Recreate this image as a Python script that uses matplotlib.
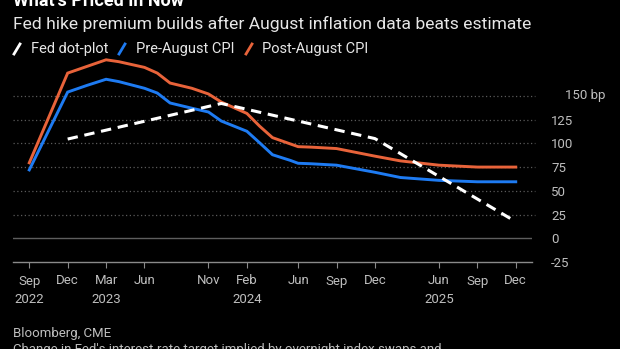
"""What's Priced In Now -- Fed hike premium after August CPI."""
import matplotlib
matplotlib.use("Agg")
import matplotlib.pyplot as plt
from matplotlib.lines import Line2D

# x = months from Sep 2022 as placed on the chart's axis
PRE_X = [0, 3, 4.5, 6, 7, 9, 10, 11, 12.7, 14, 15, 17, 18, 19, 20.4, 21, 22, 24, 27, 29, 32, 35, 38]
PRE_Y = [72, 154, 161, 167.5, 165, 158, 153, 142.5, 137, 133, 123.5, 112.7, 100.5, 88, 82, 79, 78.5, 77, 69.5, 64, 61, 59.5, 59.5]

POST_X = [0, 3, 6, 7, 9, 10, 11, 12.7, 14, 15, 17, 18, 19, 21, 22, 24, 27, 29, 32, 35, 38]
POST_Y = [79.5, 174, 188, 186, 180, 174, 163.5, 158, 152, 143.5, 131.5, 118, 106, 96.5, 96, 94.5, 86.5, 81.5, 77, 75, 75]

DOT_X = [3, 15, 27, 38]
DOT_Y = [104.5, 142, 105, 17.5]

TICK_X = [0, 3, 6, 9, 14, 17, 21, 24, 27, 32, 35, 38]
TICK_LABELS = ["Sep\n2022", "Dec", "Mar\n2023", "Jun", "Nov", "Feb\n2024",
               "Jun", "Sep", "Dec", "Jun\n2025", "Sep", "Dec"]
Y_TICKS = [-25, 0, 25, 50, 75, 100, 125]
Y_GRID = [25, 50, 75, 100, 125, 150]

BG = "#000000"
ORANGE = "#E8633A"
BLUE = "#1E7BF2"
TXT = "#E6E6E6"
MUTED = "#BEBEBE"

plt.rcParams["font.family"] = ["Roboto", "DejaVu Sans"]

fig = plt.figure(figsize=(6.2, 3.49), dpi=100, facecolor=BG)
W, H = 620, 349
ax = fig.add_axes([13 / W, 1 - 262 / H, (532 - 13) / W, (262 - 57.9) / H])
ax.set_facecolor(BG)

ax.set_xlim(-1.27, 39.27)
ax.set_ylim(-25, 190)

for g in Y_GRID:
    ax.plot([-1.27, 39.5], [g, g], color="#5A5A5A", lw=0.9, ls=(0, (1, 2)),
            clip_on=False, zorder=1)
ax.axhline(0, color="#5E5E5E", lw=1.0, zorder=1)

ax.plot(PRE_X, PRE_Y, color=BLUE, lw=2.1, solid_joinstyle="miter", zorder=3, clip_on=False)
ax.plot(POST_X, POST_Y, color=ORANGE, lw=2.1, solid_joinstyle="miter", zorder=3, clip_on=False)
ax.plot(DOT_X, DOT_Y, color="white", lw=2.2, ls=(0, (3.4, 2.2)), zorder=4, clip_on=False)

for s in ["top", "right", "left"]:
    ax.spines[s].set_visible(False)
ax.spines["bottom"].set_color("#8A8A8A")
ax.spines["bottom"].set_linewidth(1.0)

ax.set_xticks(TICK_X)
ax.set_xticklabels(TICK_LABELS, fontsize=9.5, color=MUTED, linespacing=1.55)
ax.tick_params(axis="x", length=4, color="#8A8A8A", pad=5)

ax.yaxis.tick_right()
ax.set_yticks(Y_TICKS)
ax.set_yticklabels([str(v) for v in Y_TICKS], fontsize=9.5, color=MUTED)
ax.tick_params(axis="y", length=0, pad=(545.7 - 532))
ax.text(565 / W, 1 - 96 / H, "150 bp", transform=fig.transFigure,
        fontsize=9.5, color=MUTED, va="center", ha="left")

# headline, subtitle
fig.text(13 / W, 1 - 6 / H, "What's Priced In Now", fontsize=13, weight="bold",
         color="white", va="baseline", ha="left")
fig.text(13 / W, 1 - 24 / H, "Fed hike premium builds after August inflation data beats estimate",
         fontsize=12.6, color=TXT, va="center", ha="left")

# legend with slanted strokes
legend = [("white", "Fed dot-plot", 14, 31),
          (BLUE, "Pre-August CPI", 119, 136),
          (ORANGE, "Post-August CPI", 246, 262)]
ly = 49
for col, lab, sx, tx in legend:
    fig.add_artist(Line2D([sx / W, (sx + 6) / W], [1 - (ly + 5) / H, 1 - (ly - 5) / H],
                          color=col, lw=2.0, transform=fig.transFigure))
    fig.text(tx / W, 1 - ly / H, lab, fontsize=10.5, color=TXT, va="center", ha="left")

# footer
fig.text(13 / W, 1 - 333 / H, "Bloomberg, CME", fontsize=9.5, color=MUTED, va="center")
fig.text(13 / W, 1 - 343 / H,
         "Change in Fed's interest-rate target implied by overnight index swaps and",
         fontsize=9.5, color=MUTED, va="top")

fig.savefig("out.png", dpi=100, facecolor=BG)
